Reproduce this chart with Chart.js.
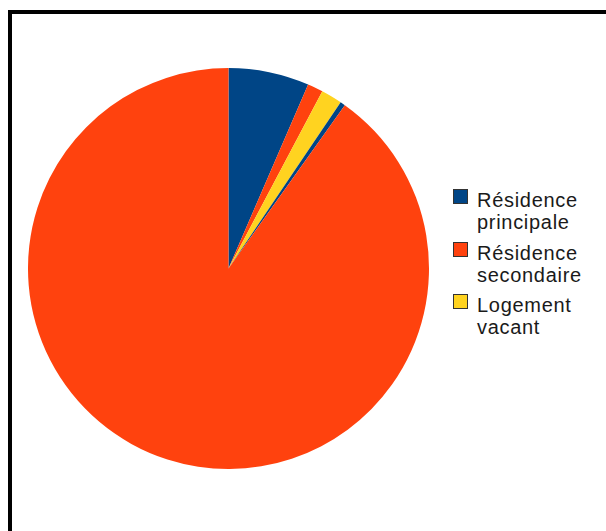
<!DOCTYPE html>
<html>
<head>
<meta charset="utf-8">
<script src="https://cdn.jsdelivr.net/npm/chart.js@4"></script>
<style>
  body { margin: 0; background: #fff; width: 606px; height: 531px; overflow: hidden; position: relative; }
  #frame { position: absolute; left: 8px; top: 10px; width: 700px; height: 600px; border: 4px solid #000; box-sizing: border-box; }
  #wrap { position: absolute; left: 28px; top: 68px; width: 401px; height: 401px; }
  #legend { position: absolute; left: 453px; top: 0; font-family: "Liberation Sans", Arial, sans-serif; font-size: 20px; line-height: 22px; letter-spacing: 0.7px; color: #1a1a1a; }
  .item { position: absolute; left: 0; width: 160px; }
  .box { position: absolute; left: 0; top: 0; width: 13px; height: 13px; border: 1px solid #333; }
  .txt { position: absolute; left: 24px; top: 0; white-space: nowrap; }
</style>
</head>
<body>
<div id="frame"></div>
<div id="wrap"><canvas id="pie"></canvas></div>
<div id="legend"></div>
<script>
// categories shown in the legend
const categories = ['Résidence principale', 'Résidence secondaire', 'Logement vacant'];
const legendLines = [['Résidence', 'principale'], ['Résidence', 'secondaire'], ['Logement', 'vacant']];
const catColors = ['#004586', '#ff420e', '#ffd320'];

// pie slices, clockwise from the top (%), and the category of each slice
const sliceValues = [6.5, 1.25, 1.7, 0.4, 90.15];
const sliceCat = [0, 1, 2, 0, 1];

const pieChart = new Chart(document.getElementById('pie'), {
  type: 'pie',
  data: {
    labels: sliceCat.map(c => categories[c]),
    datasets: [{
      data: sliceValues,
      backgroundColor: sliceCat.map(c => catColors[c]),
      borderWidth: 0
    }]
  },
  options: {
    responsive: true,
    maintainAspectRatio: false,
    animation: false,
    layout: { padding: 0 },
    plugins: { legend: { display: false }, tooltip: { enabled: false } }
  }
});

// legend on the right, two lines per entry
const legend = document.getElementById('legend');
categories.forEach((c, i) => {
  const item = document.createElement('div');
  item.className = 'item';
  item.style.top = (189 + i * 52.5) + 'px';
  item.innerHTML = '<div class="box" style="background:' + catColors[i] + '"></div>' +
    '<div class="txt">' + legendLines[i].join('<br>') + '</div>';
  legend.appendChild(item);
});
</script>
</body>
</html>
